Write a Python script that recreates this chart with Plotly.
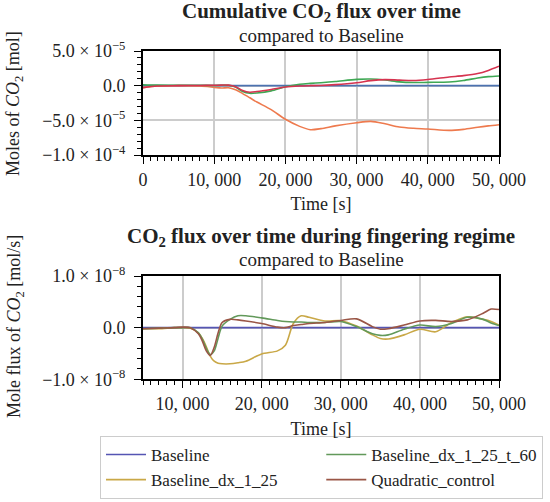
import plotly.graph_objects as go

# ---------------- data ----------------
series_names = ["Baseline", "Baseline_dx_1_25", "Baseline_dx_1_25_t_60", "Quadratic_control"]

# cumulative CO2 (top panel)
t_cum = [0, 2000, 5000, 8000, 10000, 11000, 12000, 13000, 14000, 15000, 16000, 18000,
         20000, 22000, 23500, 25000, 27000, 30000, 32000, 34000, 36000, 38000, 40000,
         43000, 45000, 47000, 48500, 50000]
cum_baseline = [0.0] * len(t_cum)
cum_dx_1_25 = [-2.9e-6, -0.5e-6, 0.0, -0.5e-6, -2.4e-6, -3.4e-6, -2.9e-6, -5.8e-6, -1.15e-5,
               -1.75e-5, -2.36e-5, -3.46e-5, -4.85e-5, -5.87e-5, -6.35e-5, -6.2e-5, -5.8e-5,
               -5.34e-5, -5.15e-5, -5.5e-5, -5.96e-5, -6.15e-5, -6.25e-5, -6.45e-5, -6.3e-5,
               -6.0e-5, -5.8e-5, -5.63e-5]
cum_dx_1_25_t_60 = [1.4e-6, 0.8e-6, 0.5e-6, 0.5e-6, 0.3e-6, 0.5e-6, 0.5e-6, -2e-6, -8.5e-6,
                    -1.1e-5, -1.05e-5, -7.5e-6, -1.5e-6, 2e-6, 3.3e-6, 4.3e-6, 6e-6, 9.1e-6,
                    9.6e-6, 8.2e-6, 5.5e-6, 4.5e-6, 4.8e-6, 5.3e-6, 7.5e-6, 1.1e-5, 1.3e-5, 1.4e-5]
cum_quadratic = [-2.9e-6, -0.5e-6, 0.0, 0.3e-6, 0.5e-6, 0.8e-6, 0.8e-6, -1.5e-6, -7e-6,
                 -9.5e-6, -8.5e-6, -5.5e-6, -2e-6, -0.5e-6, 0.0, 0.3e-6, 1.5e-6, 4.3e-6,
                 7.2e-6, 8.7e-6, 8e-6, 7.5e-6, 9e-6, 1.25e-5, 1.45e-5, 1.75e-5, 2.2e-5, 2.8e-5]

# CO2 flux (bottom panel)
t_flux = [5000, 7000, 9000, 10000, 11000, 12000, 12500, 13000, 13500, 14000, 14500, 15000,
          16000, 17000, 18000, 20000, 22000, 23000, 24000, 25000, 26000, 28000, 30000,
          32000, 34000, 35000, 36000, 38000, 40000, 42000, 44000, 46000, 48000, 49000, 50000]
flux_baseline = [0.0] * len(t_flux)
flux_dx_1_25 = [-2e-10, -2e-10, 0.0, 0.0, -1e-10, -1e-9, -2.1e-9, -3.7e-9, -5.5e-9, -6.5e-9,
                -6.9e-9, -7e-9, -7e-9, -6.8e-9, -6.5e-9, -5.1e-9, -4.5e-9, -3.4e-9, 0.8e-9,
                2.3e-9, 2e-9, 1.3e-9, 1.35e-9, 0.3e-9, -1.4e-9, -2.1e-9, -2.2e-9, -1.4e-9,
                -0.3e-9, -0.8e-9, 1e-9, 2.1e-9, 1.6e-9, 1.2e-9, 0.5e-9]
flux_dx_1_25_t_60 = [-2e-10, -1e-10, 0.0, 0.0, 0.0, -1e-9, -2.2e-9, -4e-9, -5.2e-9, -4.5e-9,
                     -2e-9, 0.3e-9, 1.6e-9, 2.3e-9, 2.3e-9, 1.9e-9, 1.4e-9, 1.2e-9, 1.1e-9,
                     1.1e-9, 1e-9, 1e-9, 1.2e-9, 0.2e-9, -1.2e-9, -1.5e-9, -1.4e-9, -0.3e-9,
                     0.5e-9, 0.2e-9, 0.8e-9, 2e-9, 1.6e-9, 0.9e-9, 0.4e-9]
flux_quadratic = [-2e-10, -1e-10, 0.0, 0.1e-9, 0.0, -1.2e-9, -2.6e-9, -4.5e-9, -5.4e-9, -3.8e-9,
                  -1e-9, 1e-9, 1.6e-9, 1.5e-9, 1.3e-9, 0.8e-9, 0.1e-9, 0.0, 0.4e-9, 0.6e-9,
                  0.8e-9, 1e-9, 1.4e-9, 1.7e-9, 0.2e-9, -0.3e-9, -0.2e-9, 0.5e-9, 1.3e-9,
                  1.4e-9, 1.2e-9, 1.5e-9, 2.8e-9, 3.6e-9, 3.5e-9]

x_tickvals = [0, 10000, 20000, 30000, 40000, 50000]
x_ticktext = ["0", "10, 000", "20, 000", "30, 000", "40, 000", "50, 000"]
cum_tickvals = [5e-5, 0.0, -5e-5, -1e-4]
cum_ticktext = ["5.0 × 10<sup>−5</sup>", "0.0", "−5.0 × 10<sup>−5</sup>", "−1.0 × 10<sup>−4</sup>"]
flux_tickvals = [1e-8, 0.0, -1e-8]
flux_ticktext = ["1.0 × 10<sup>−8</sup>", "0.0", "−1.0 × 10<sup>−8</sup>"]

# ---------------- style ----------------
FONT = "Liberation Serif"
FS = 18
TXT = "#222222"
W, H = 550, 502
ML, MR, MT, MB = 143, 51, 0, 120
PH = H - MT - MB
PW = W - ML - MR

def py(p):  # pixel row -> paper y
    return (H - MB - p) / PH

def px(p):  # pixel column -> paper x
    return (p - ML) / PW

top_colors = ["#4c72b0", "#ee7a4e", "#3fa854", "#d6334f"]
bot_colors = ["#5555b3", "#c9a847", "#62995a", "#9a5646"]
legend_rank = [1, 3, 2, 4]

fig = go.Figure()
top_data = [cum_baseline, cum_dx_1_25, cum_dx_1_25_t_60, cum_quadratic]
bot_data = [flux_baseline, flux_dx_1_25, flux_dx_1_25_t_60, flux_quadratic]
for i, name in enumerate(series_names):
    fig.add_trace(go.Scatter(x=t_cum, y=top_data[i], mode="lines", name=name,
                             line=dict(color=top_colors[i], width=1.6, shape="spline", smoothing=0.8),
                             showlegend=False, xaxis="x", yaxis="y"))
for i, name in enumerate(series_names):
    fig.add_trace(go.Scatter(x=t_flux, y=bot_data[i], mode="lines", name=name,
                             line=dict(color=bot_colors[i], width=1.6, shape="spline", smoothing=0.8),
                             legendrank=legend_rank[i], xaxis="x2", yaxis="y2"))

axis_common = dict(showline=True, linecolor="black", linewidth=2, mirror=True,
                   ticks="outside", ticklen=7, tickwidth=1.3, tickcolor="black",
                   showgrid=True, gridcolor="#cccccc", gridwidth=1.5, zeroline=False,
                   tickfont=dict(family=FONT, size=FS, color=TXT))
minor_x = dict(tickmode="linear", tick0=0, dtick=1000, ticklen=4, tickcolor="black", showgrid=False)

fig.update_layout(
    width=W, height=H,
    margin=dict(l=ML, r=MR, t=MT, b=MB, autoexpand=False),
    paper_bgcolor="white", plot_bgcolor="white",
    font=dict(family=FONT, size=FS, color=TXT),
    xaxis=dict(domain=[0, 1], anchor="y", range=[0, 50000], tickmode="array",
               tickvals=x_tickvals, ticktext=x_ticktext, minor=minor_x,
               title=dict(text="Time [s]", font=dict(family=FONT, size=FS), standoff=9),
               **axis_common),
    yaxis=dict(domain=[py(155), py(51)], anchor="x", range=[-1e-4, 5e-5], tickmode="array",
               tickvals=cum_tickvals, ticktext=cum_ticktext, ticklabelstandoff=5,
               minor=dict(tickmode="linear", tick0=0, dtick=1e-5, ticklen=4, tickcolor="black", showgrid=False),
               **axis_common),
    xaxis2=dict(domain=[0, 1], anchor="y2", range=[5000, 50000], tickmode="array",
                tickvals=x_tickvals, ticktext=x_ticktext, minor=minor_x,
                title=dict(text="Time [s]", font=dict(family=FONT, size=FS), standoff=9),
                **axis_common),
    yaxis2=dict(domain=[py(379.3), py(276)], anchor="x2", range=[-1e-8, 1e-8], tickmode="array",
                tickvals=flux_tickvals, ticktext=flux_ticktext, ticklabelstandoff=5,
                minor=dict(tickmode="linear", tick0=0, dtick=2e-9, ticklen=4, tickcolor="black", showgrid=False),
                **axis_common),
    legend=dict(orientation="h", xref="paper", yref="paper", x=px(100), xanchor="left",
                y=py(436), yanchor="top",
                bordercolor="#cccccc", borderwidth=1, bgcolor="white",
                font=dict(family=FONT, size=17, color=TXT), itemwidth=40,
                tracegroupgap=0),
)

annotations = [
    dict(text="<b>Cumulative CO<sub>2</sub> flux over time</b>", y=py(12), size=21),
    dict(text="compared to Baseline", y=py(35), size=19),
    dict(text="<b>CO<sub>2</sub> flux over time during fingering regime</b>", y=py(237), size=21),
    dict(text="compared to Baseline", y=py(259), size=19),
]
for a in annotations:
    fig.add_annotation(xref="paper", yref="paper", showarrow=False, x=0.5, y=a["y"],
                       xanchor="center", yanchor="middle", text=a["text"],
                       font=dict(family=FONT, size=a["size"], color=TXT))

ytitles = [("Moles of <i>CO</i><sub>2</sub> [mol]", 104),
           ("Mole flux of <i>CO</i><sub>2</sub> [mol/s]", 327)]
for txt, yc in ytitles:
    fig.add_annotation(text=txt, x=px(15), y=py(yc), xref="paper", yref="paper",
                       xanchor="center", yanchor="middle", showarrow=False, textangle=-90,
                       font=dict(family=FONT, size=FS, color=TXT))

fig.write_html("out.html", config={"displayModeBar": False},
               post_script="document.body.style.margin='0';document.body.style.overflow='hidden';")
